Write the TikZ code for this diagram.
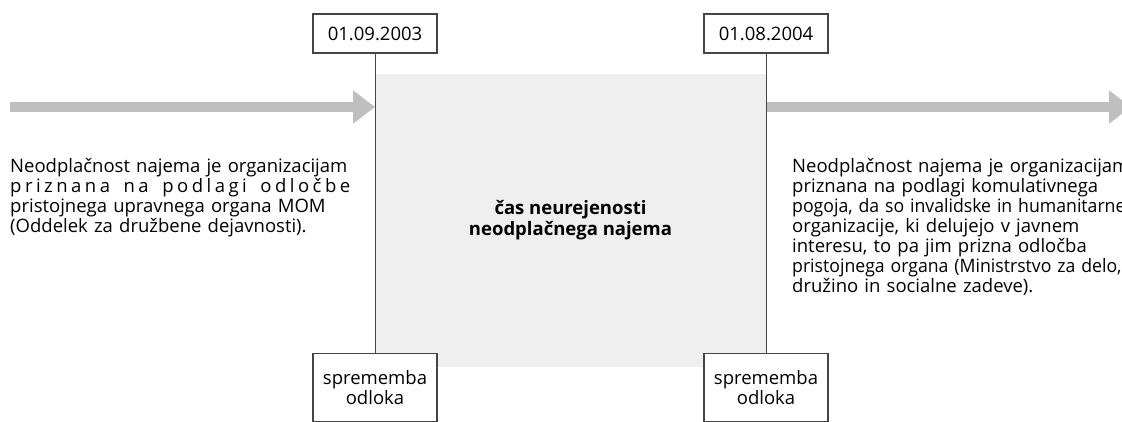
\documentclass[tikz,border=0pt]{standalone}
\usepackage{fontspec}
\setmainfont{Open Sans}
\usetikzlibrary{arrows.meta}
\definecolor{arrowgrey}{HTML}{BFBFBF}
\definecolor{gapgrey}{HTML}{EFEFEF}
\definecolor{linegrey}{HTML}{454545}
\newcommand{\jline}[1]{\makebox[340pt][s]{#1}}
\newcommand{\tline}[1]{\scalebox{0.955}[1]{#1}}
\newcommand{\lsp}{\hspace{0pt plus 1fil}}
\newcommand{\wsp}{\hspace{0.26em plus 2.5fil}}
\newcommand{\notefont}{\fontsize{18.5}{20.1}\selectfont}
\tikzset{
 datebox/.style={draw=linegrey, line width=1.2pt, fill=white, minimum width=124pt, minimum height=39pt, inner sep=0pt},
 changebox/.style={datebox, minimum height=68pt, align=center, anchor=north},
 gapbox/.style={fill=gapgrey, minimum width=391pt, minimum height=293pt, align=center, font=\notefont\bfseries},
 timeline/.style={draw=arrowgrey, line width=10pt, -{Triangle[length=22pt,width=32pt,fill=arrowgrey]}},
 vline/.style={draw=linegrey, line width=1pt},
 notetext/.style={anchor=north west, inner sep=0pt, text width=420pt, align=left},
}

\begin{document}
\begin{tikzpicture}[x=1pt, y=-1pt, font=\notefont]
\clip (0,0) rectangle (1122,421);

\node[gapbox] (gap) at (570.5,220.5) {čas neurejenosti\\[1pt]neodplačnega najema};

\coordinate (l0) at (10,107);
\coordinate (l1) at (375,107);
\coordinate (r0) at (766,107);
\coordinate (r1) at (1131,107);
\draw[timeline] (l0) -- (l1);
\draw[timeline] (r0) -- (r1);

\node[datebox] (d1) at (375,33.5) {01.09.2003};
\node[datebox] (d2) at (766,33.5) {01.08.2004};
\node[changebox] (c1) at (375,353) {sprememba\\odloka};
\node[changebox] (c2) at (766,353) {sprememba\\odloka};
\draw[vline] (d1) -- (c1);
\draw[vline] (d2) -- (c2);

\node[notetext] (n1) at (10,158) {Neodplačnost najema je organizacijam\\
\jline{p\lsp r\lsp i\lsp z\lsp n\lsp a\lsp n\lsp a\wsp n\lsp a\wsp p\lsp o\lsp d\lsp l\lsp a\lsp g\lsp i\wsp o\lsp d\lsp l\lsp o\lsp č\lsp b\lsp e}\\
\jline{pristojnega upravnega organa MOM}\\
(Oddelek za družbene dejavnosti).};

\node[notetext] (n2) at (792,158) {Neodplačnost najema je organizacijam\\
\jline{priznana na podlagi komulativnega}\\
\tline{pogoja, da so invalidske in humanitarne}\\
\jline{organizacije, ki delujejo v javnem}\\
\jline{interesu, to pa jim prizna odločba}\\
\tline{pristojnega organa (Ministrstvo za delo,}\\
družino in socialne zadeve).};
\end{tikzpicture}
\end{document}
